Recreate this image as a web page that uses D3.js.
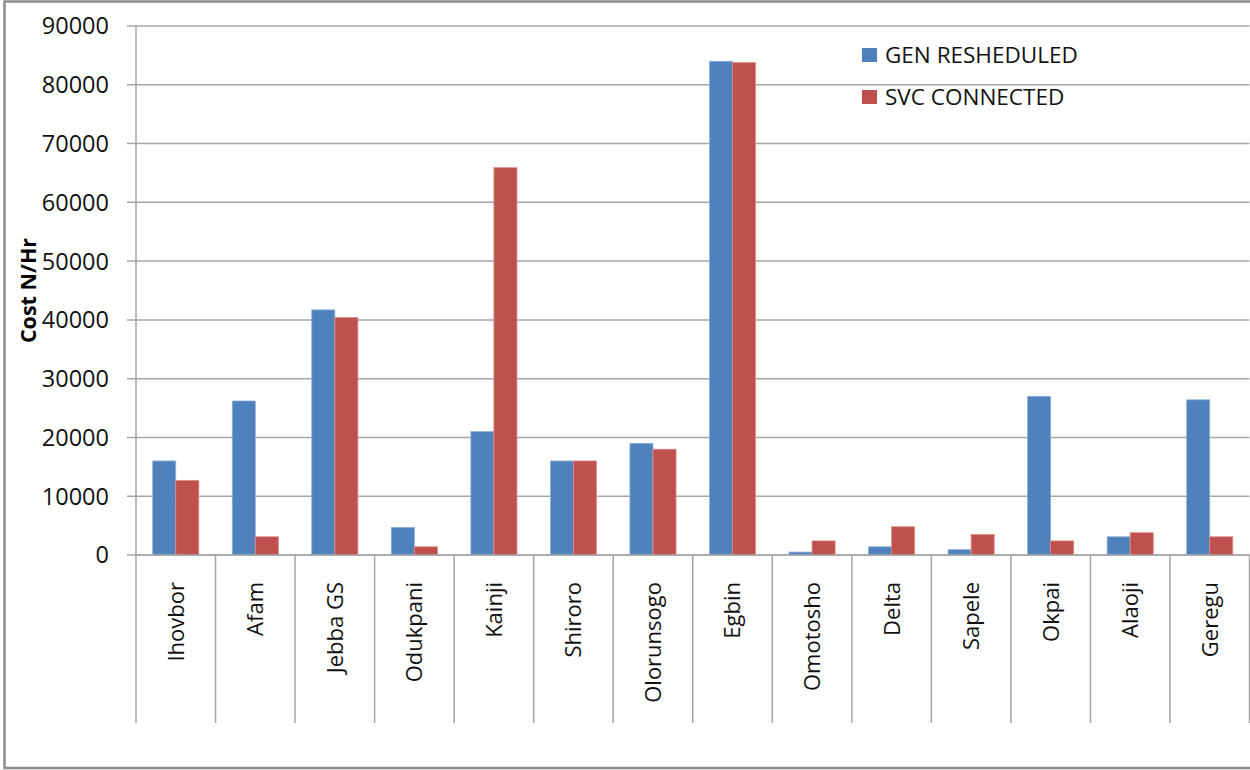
<!DOCTYPE html>
<html>
<head>
<meta charset="utf-8">
<script src="https://cdn.jsdelivr.net/npm/d3@7"></script>
<style>
  html, body { margin: 0; padding: 0; background: #fff; }
  svg { display: block; font-family: "Open Sans", "Noto Sans", sans-serif; }
</style>
</head>
<body>
<svg id="chart" width="1250" height="770"></svg>
<script>
// Generating stations
const categories = ["Ihovbor", "Afam", "Jebba GS", "Odukpani", "Kainji", "Shiroro",
  "Olorunsogo", "Egbin", "Omotosho", "Delta", "Sapele", "Okpai", "Alaoji", "Geregu"];

// Cost (N/Hr) per station
const genRescheduled = [16000, 26200, 41700, 4700, 21000, 16000, 19000, 84000, 500, 1400, 900, 27000, 3100, 26400];
const svcConnected   = [12700, 3100, 40400, 1400, 65900, 16000, 18000, 83800, 2400, 4800, 3500, 2400, 3800, 3100];

const seriesNames = ["GEN RESHEDULED", "SVC CONNECTED"];
const seriesColors = ["#4F81BD", "#C0504D"];
const yTicks = [0, 10000, 20000, 30000, 40000, 50000, 60000, 70000, 80000, 90000];

const series = [genRescheduled, svcConnected];

const svg = d3.select("#chart");
const plotLeft = 136, plotRight = 1249.5, plotTop = 26, plotBottom = 555, catBottom = 723;

// outer frame
svg.append("rect")
  .attr("x", 4.5).attr("y", 1.5).attr("width", 1250).attr("height", 766.5)
  .attr("fill", "none").attr("stroke", "#8c8c8c").attr("stroke-width", 2.5);

const x0 = d3.scaleBand().domain(categories).range([plotLeft, plotRight]).padding(0);
const x1 = d3.scaleBand().domain(seriesNames)
  .range([x0.bandwidth() * 0.21, x0.bandwidth() * 0.79]).padding(0);
const y = d3.scaleLinear().domain([0, 90000]).range([plotBottom, plotTop]);

// horizontal gridlines with outward ticks
svg.append("g").selectAll("line").data(yTicks).join("line")
  .attr("x1", plotLeft - 9).attr("x2", plotRight)
  .attr("y1", d => y(d)).attr("y2", d => y(d))
  .attr("stroke", "#a6a6a6").attr("stroke-width", 1.5);

// y tick labels
svg.append("g").selectAll("text").data(yTicks).join("text")
  .attr("x", 109).attr("y", d => y(d))
  .attr("dy", "0.36em")
  .attr("text-anchor", "end")
  .attr("font-size", 23.5)
  .attr("fill", "#111")
  .text(d => d);

// bars
const groups = svg.append("g").selectAll("g").data(categories).join("g")
  .attr("transform", d => `translate(${x0(d)},0)`);
groups.selectAll("rect")
  .data((d, i) => seriesNames.map((s, k) => ({ s, v: series[k][i], k })))
  .join("rect")
  .attr("x", d => x1(d.s))
  .attr("width", x1.bandwidth())
  .attr("y", d => y(d.v))
  .attr("height", d => y(0) - y(d.v))
  .attr("fill", d => seriesColors[d.k])
  .attr("stroke", d => d.k === 0 ? "#8fb0d8" : "#dc8e8c")
  .attr("stroke-width", 0.8);

// y axis line, base line and category dividers
svg.append("line")
  .attr("x1", plotLeft).attr("x2", plotLeft).attr("y1", plotTop).attr("y2", catBottom)
  .attr("stroke", "#a6a6a6").attr("stroke-width", 1.5);
svg.append("line")
  .attr("x1", plotLeft).attr("x2", plotRight).attr("y1", plotBottom).attr("y2", plotBottom)
  .attr("stroke", "#a6a6a6").attr("stroke-width", 1.5);
svg.append("g").selectAll("line").data(categories).join("line")
  .attr("x1", d => x0(d) + x0.step())
  .attr("x2", d => x0(d) + x0.step())
  .attr("y1", plotBottom).attr("y2", catBottom)
  .attr("stroke", "#a6a6a6").attr("stroke-width", 1.5);

// category labels, rotated
svg.append("g").selectAll("text").data(categories).join("text")
  .attr("transform", d => `translate(${x0(d) + x0.bandwidth() / 2},582) rotate(-90)`)
  .attr("text-anchor", "end")
  .attr("dy", "0.36em")
  .attr("font-size", 22)
  .attr("fill", "#111")
  .text(d => d);

// y axis title
svg.append("text")
  .attr("transform", `translate(28,${(plotTop + plotBottom) / 2}) rotate(-90)`)
  .attr("text-anchor", "middle")
  .attr("dy", "0.36em")
  .attr("font-size", 21.5)
  .attr("font-weight", "bold")
  .attr("fill", "#000")
  .text("Cost N/Hr");

// legend
const legend = svg.append("g").selectAll("g").data(seriesNames).join("g")
  .attr("transform", (d, i) => `translate(862,${55 + i * 42})`);
legend.append("rect")
  .attr("x", 0).attr("y", -7).attr("width", 15).attr("height", 14)
  .attr("fill", (d, i) => seriesColors[i]);
legend.append("text")
  .attr("x", 23).attr("dy", "0.36em")
  .attr("font-size", 22.5)
  .attr("fill", "#111")
  .text(d => d);
</script>
</body>
</html>
